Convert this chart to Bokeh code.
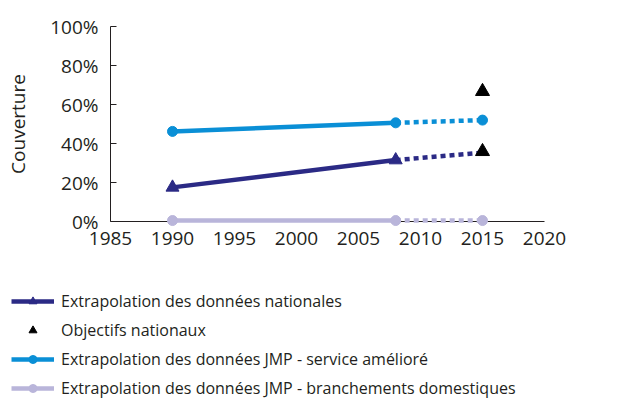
from bokeh.plotting import figure
from bokeh.layouts import column
from bokeh.models import Range1d, FixedTicker, PrintfTickFormatter, Legend, LegendItem
from bokeh.embed import file_html
from bokeh.resources import INLINE

# ---- data ----
years_hist = [1990, 2008]
years_proj = [2008, 2015]
nat_hist = [17.5, 31.5]
nat_proj = [31.5, 35.3]
jmp_imp_hist = [46.2, 50.6]
jmp_imp_proj = [50.6, 52.0]
jmp_dom_hist = [0.5, 0.5]
jmp_dom_proj = [0.5, 0.5]
obj_years = [2015, 2015]
obj_vals = [35.9, 66.7]
x_ticks = [1985, 1990, 1995, 2000, 2005, 2010, 2015, 2020]
y_ticks = [0, 20, 40, 60, 80, 100]

labels = [
    "Extrapolation des données nationales",
    "Objectifs nationaux",
    "Extrapolation des données JMP - service amélioré",
    "Extrapolation des données JMP - branchements domestiques",
]

NAVY = "#2B2A85"
BLUE = "#0A8FD6"
LAV = "#B9B5DA"
FONT = "Open Sans"
TXT = "#231F20"

W = 613
H_MAIN = 270
H_LEG = 131

p = figure(width=W, height=H_MAIN, output_backend="svg", toolbar_location=None,
           x_range=Range1d(1985, 2020), y_range=Range1d(0, 100),
           min_border_left=110, min_border_right=69, min_border_top=26, min_border_bottom=49)
p.frame_align = False
p.outline_line_color = None
p.xgrid.visible = False
p.ygrid.visible = False

# JMP domestic
p.line(years_hist, jmp_dom_hist, line_color=LAV, line_width=4.5, level="overlay")
p.line(years_proj, jmp_dom_proj, line_color=LAV, line_width=4.5, line_dash="5 4", level="overlay")
p.scatter(years_hist + years_proj[1:], jmp_dom_hist + jmp_dom_proj[1:], marker="circle",
          size=10, color=LAV, level="overlay")

# JMP improved
p.line(years_hist, jmp_imp_hist, line_color=BLUE, line_width=4.5)
p.line(years_proj, jmp_imp_proj, line_color=BLUE, line_width=4.5, line_dash="5 4")
p.scatter(years_hist + years_proj[1:], jmp_imp_hist + jmp_imp_proj[1:], marker="circle",
          size=10, color=BLUE)

# National
p.line(years_hist, nat_hist, line_color=NAVY, line_width=4.5)
p.line(years_proj, nat_proj, line_color=NAVY, line_width=4.5, line_dash="5 4")
p.scatter(years_hist, nat_hist, marker="triangle", size=13, color=NAVY)

# Objectives
p.scatter(obj_years, obj_vals, marker="triangle", size=14, color="black")

# axes
p.xaxis.ticker = FixedTicker(ticks=x_ticks)
p.yaxis.ticker = FixedTicker(ticks=y_ticks)
p.yaxis.formatter = PrintfTickFormatter(format="%d%%")
for ax in (p.xaxis, p.yaxis):
    ax.axis_line_color = TXT
    ax.major_tick_line_color = TXT
    ax.minor_tick_line_color = None
    ax.major_label_text_font = FONT
    ax.major_label_text_font_size = "19px"
    ax.major_label_text_color = TXT
    ax.axis_label_text_font = FONT
    ax.axis_label_text_font_style = "normal"
    ax.axis_label_text_font_size = "19px"
    ax.axis_label_text_color = TXT
p.xaxis.major_tick_in = 0
p.xaxis.major_tick_out = 0
p.xaxis.major_label_standoff = 10
p.yaxis.major_tick_in = 6
p.yaxis.major_tick_out = 0
p.yaxis.major_label_standoff = 12
p.yaxis.axis_label = "Couverture"
p.yaxis.axis_label_standoff = 16

# ---- legend panel: same series drawn off-screen, only their styles show in the legend ----
lg = figure(width=W, height=H_LEG, output_backend="svg", toolbar_location=None,
            x_range=Range1d(0, 1), y_range=Range1d(0, 1),
            min_border_left=11, min_border_right=0, min_border_top=20, min_border_bottom=0)
lg.frame_align = False
lg.axis.visible = False
lg.grid.visible = False
lg.outline_line_color = None

l_nat = lg.line(years_hist, nat_hist, line_color=NAVY, line_width=4.5)
m_nat = lg.scatter(years_hist, nat_hist, marker="triangle", size=12, color=NAVY)
m_obj = lg.scatter(obj_years, obj_vals, marker="triangle", size=13, color="black")
l_imp = lg.line(years_hist, jmp_imp_hist, line_color=BLUE, line_width=4.5)
m_imp = lg.scatter(years_hist, jmp_imp_hist, marker="circle", size=8, color=BLUE)
l_dom = lg.line(years_hist, jmp_dom_hist, line_color=LAV, line_width=4.5)
m_dom = lg.scatter(years_hist, jmp_dom_hist, marker="circle", size=8, color=LAV)

legend = Legend(items=[
    LegendItem(label=labels[0], renderers=[l_nat, m_nat]),
    LegendItem(label=labels[1], renderers=[m_obj]),
    LegendItem(label=labels[2], renderers=[l_imp, m_imp]),
    LegendItem(label=labels[3], renderers=[l_dom, m_dom]),
], location="top_left")
legend.padding = 0
legend.margin = 0
legend.spacing = 7
legend.glyph_width = 43
legend.glyph_height = 20
legend.label_height = 20
legend.label_standoff = 7
legend.label_text_font = FONT
legend.label_text_font_size = "16px"
legend.label_text_color = TXT
legend.border_line_color = None
legend.background_fill_alpha = 0
lg.add_layout(legend, "center")

layout = column(p, lg, spacing=0)
open("out.html", "w").write(file_html(layout, INLINE))
